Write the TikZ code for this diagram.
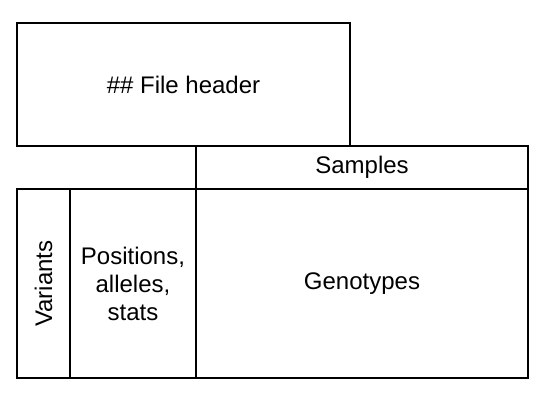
\documentclass[tikz,border=0pt]{standalone}
\usepackage{fontspec}
\setmainfont{Liberation Sans}
\begin{document}
\begin{tikzpicture}[x=1pt,y=-1pt]
\tikzset{cell/.style={draw=black,line width=2pt,inner sep=0pt,outer sep=0pt,anchor=north west,align=center,font=\fontsize{24}{28}\selectfont}}
\definecolor{fillColor}{RGB}{255,255,255}
\path[use as bounding box,fill=fillColor] (0,0) rectangle (554,401);

\node[cell,minimum width=333pt,minimum height=123pt] (header) at ( 17, 23) {\#\# File header};

\node[cell,minimum width=332pt,minimum height= 43pt] (samples) at (196,146) {Samples};

\node[cell,minimum width= 53pt,minimum height=189pt] (variants) at ( 17,189) {};
\node[inner sep=0pt,rotate=90,font=\fontsize{24}{28}\selectfont] (varlabel) at (variants.center) {Variants};

\node[cell,minimum width=126pt,minimum height=189pt] (info) at ( 70,189) {Positions,\\alleles,\\stats};

\node[cell,minimum width=332pt,minimum height=189pt] (genotypes) at (196,189) {Genotypes};
\end{tikzpicture}
\end{document}
